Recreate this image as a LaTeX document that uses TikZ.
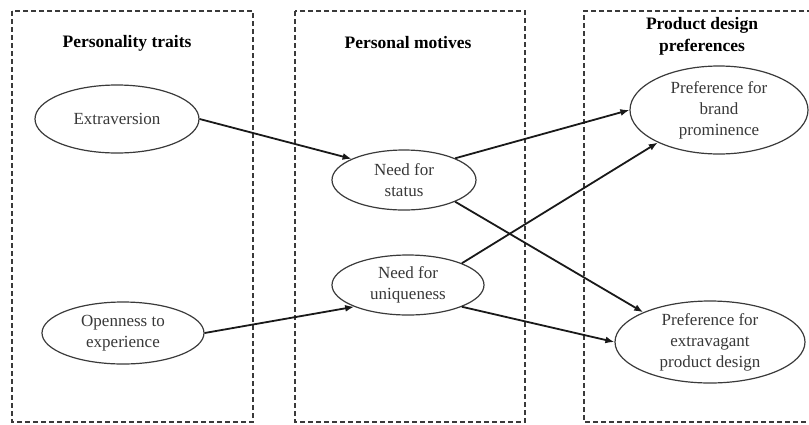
\documentclass[tikz,border=0pt]{standalone}
\usepackage{fontspec}
\setmainfont{Liberation Serif}
\usetikzlibrary{shapes.geometric,arrows.meta}
\definecolor{boxgray}{HTML}{3A3A3A}
\definecolor{txtgray}{HTML}{383838}
\tikzset{
  panel/.style={draw=boxgray, line width=1.3pt, dash pattern=on 5pt off 3pt},
  heading/.style={font=\fontsize{17.5}{22}\selectfont\bfseries, text=black, align=center, inner sep=0pt},
  oval/.style={ellipse, draw=boxgray, line width=1.2pt, inner sep=0pt, align=center,
    font=\fontsize{17}{21}\selectfont, text=txtgray},
  link/.style={draw=black!90, line width=1.8pt, -{Latex[length=9pt,width=7pt]}},
}
\begin{document}
\begin{tikzpicture}[x=1pt,y=-1pt]
\useasboundingbox (0,0) rectangle (809,424);
% panels
\draw[panel] (12,11) rectangle (253,422);
\draw[panel] (295,11) rectangle (525,422);
\draw[panel] (812,11) -- (584,11) -- (584,422) -- (812,422);
% headings
\node[heading] (h1) at (127,43) {Personality traits};
\node[heading] (h2) at (408,43) {Personal motives};
\node[heading] (h3) at (702,36) {Product design\\preferences};
% ovals
\node[oval, minimum width=164pt, minimum height=68pt] (ext) at (117,119) {Extraversion};
\node[oval, minimum width=162pt, minimum height=62pt] (open) at (123,333) {Openness to\\experience};
\node[oval, minimum width=144pt, minimum height=60pt] (stat) at (404,180) {Need for\\status};
\node[oval, minimum width=152pt, minimum height=60pt] (uniq) at (408,285) {Need for\\uniqueness};
\node[oval, minimum width=178pt, minimum height=88pt] (brand) at (719,110) {Preference for\\brand\\prominence};
\node[oval, minimum width=190pt, minimum height=82pt] (extrav) at (710,342) {Preference for\\extravagant\\product design};
% links
\draw[link] (ext.east) -- (stat.158);
\draw[link] (open.east) -- (uniq.202);
\draw[link] (stat.23) -- (brand.west);
\draw[link] (stat.337) -- (extrav.156);
\draw[link] (uniq.22) -- (brand.208);
\draw[link] (uniq.338) -- (extrav.west);
\end{tikzpicture}
\end{document}
